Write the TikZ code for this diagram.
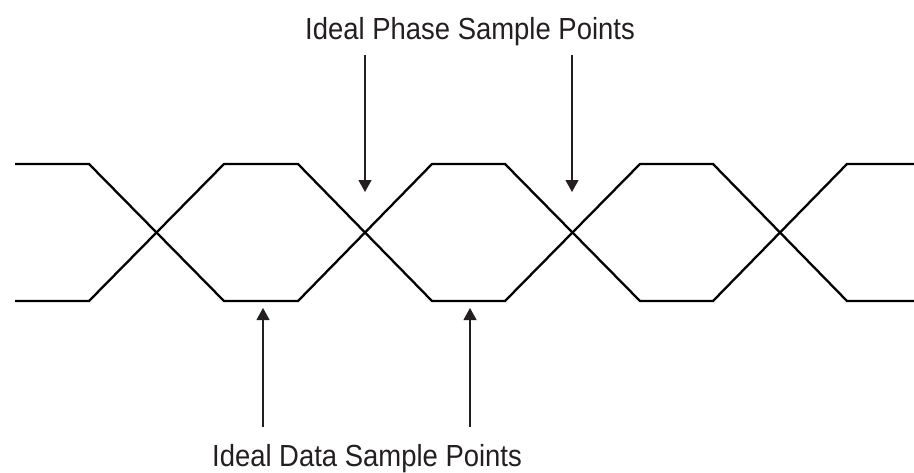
\documentclass[tikz,border=0pt]{standalone}
\usepackage{fontspec}
\setmainfont{Liberation Sans}[FakeStretch=0.9]
\usetikzlibrary{arrows.meta}
\definecolor{ink}{HTML}{231F20}
\begin{document}
\begin{tikzpicture}[x=1pt,y=-1pt,
  wave/.style={line width=2.3pt,black,line join=miter},
  pointer/.style={line width=1.1pt,ink,-{Triangle[width=13pt,length=12pt]}},
  lbl/.style={font=\fontsize{30.5}{36}\selectfont,text=ink,inner sep=0pt,anchor=base}]
\useasboundingbox (0,0) rectangle (914,472);
% eye diagram traces
\draw[wave] (15,164) -- (89,164) -- (224,301) -- (298,301) -- (432,164) -- (505,164)
  -- (640,301) -- (713,301) -- (847,164) -- (914,164);
\draw[wave] (15,301) -- (89,301) -- (224,164) -- (298,164) -- (432,301) -- (505,301)
  -- (640,164) -- (713,164) -- (847,301) -- (914,301);
% labels
\node[lbl] (phase) at (470,39) {Ideal Phase Sample Points};
\node[lbl] (data) at (367,466) {Ideal Data Sample Points};
% arrow end points
\coordinate (p1s) at (365,55);  \coordinate (p1e) at (365,192);
\coordinate (p2s) at (572,55);  \coordinate (p2e) at (572,192);
\coordinate (d1s) at (263,427); \coordinate (d1e) at (263,308);
\coordinate (d2s) at (470,427); \coordinate (d2e) at (470,308);
\draw[pointer] (p1s) -- (p1e);
\draw[pointer] (p2s) -- (p2e);
\draw[pointer] (d1s) -- (d1e);
\draw[pointer] (d2s) -- (d2e);
\end{tikzpicture}
\end{document}
